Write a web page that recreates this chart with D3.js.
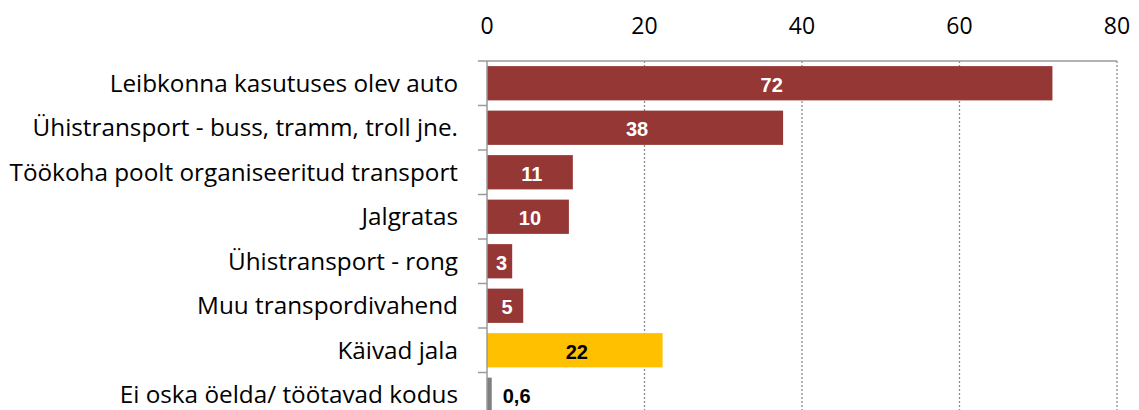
<html>
<head>
<script src="https://cdn.jsdelivr.net/npm/d3@7"></script>
<style>
  body { margin: 0; background: #fff; }
</style>
</head>
<body>
<div id="chartContainer"></div>
<script>
  // categories, top to bottom
  var categories = [
    "Leibkonna kasutuses olev auto",
    "Ühistransport - buss, tramm, troll jne.",
    "Töökoha poolt organiseeritud transport",
    "Jalgratas",
    "Ühistransport - rong",
    "Muu transpordivahend",
    "Käivad jala",
    "Ei oska öelda/ töötavad kodus"
  ];
  // shares in %
  var values = [71.8, 37.6, 10.9, 10.4, 3.2, 4.6, 22.3, 0.6];
  var barColors = ["#953735", "#953735", "#953735", "#953735", "#953735", "#953735", "#FFC000", "#7f7f7f"];
  var xTicks = [0, 20, 40, 60, 80];

  var W = 1139, H = 410;
  // note: "top" is reserved on window, so plotTop
  var plotLeft = 487, plotRight = 1117, plotTop = 61, band = 44.5;

  var svg = d3.select("#chartContainer").append("svg")
    .attr("width", W).attr("height", H);

  var x = d3.scaleLinear().domain([0, 80]).range([plotLeft, plotRight]);
  var y = d3.scaleBand().domain(categories)
    .range([plotTop, plotTop + band * categories.length])
    .paddingInner(0.23).paddingOuter(0.115);

  // dotted gridlines
  svg.selectAll("line.grid")
    .data(xTicks.slice(1))
    .enter().append("line")
      .attr("x1", function (d) { return x(d); })
      .attr("x2", function (d) { return x(d); })
      .attr("y1", plotTop).attr("y2", H)
      .style("stroke", "#8c8c8c")
      .style("stroke-width", 1.3)
      .style("stroke-dasharray", "2,2");

  // bars
  svg.selectAll("rect.bar")
    .data(values)
    .enter().append("rect")
      .attr("x", x(0))
      .attr("y", function (d, i) { return y(categories[i]); })
      .attr("width", function (d) { return x(d) - x(0); })
      .attr("height", y.bandwidth())
      .style("fill", function (d, i) { return barColors[i]; });

  // top axis line and left axis with category separators
  svg.append("line")
    .attr("x1", plotLeft - 9).attr("x2", plotRight)
    .attr("y1", plotTop).attr("y2", plotTop)
    .style("stroke", "#9a9a9a").style("stroke-width", 1.5);
  svg.append("line")
    .attr("x1", plotLeft).attr("x2", plotLeft)
    .attr("y1", plotTop).attr("y2", H)
    .style("stroke", "#9a9a9a").style("stroke-width", 1.5);
  svg.selectAll("line.sep")
    .data(d3.range(1, categories.length + 1))
    .enter().append("line")
      .attr("x1", plotLeft - 9).attr("x2", plotLeft)
      .attr("y1", function (d) { return plotTop + d * y.step(); })
      .attr("y2", function (d) { return plotTop + d * y.step(); })
      .style("stroke", "#9a9a9a").style("stroke-width", 1.5);

  // tick labels on top
  svg.selectAll("text.tick")
    .data(xTicks)
    .enter().append("text")
      .attr("x", function (d) { return x(d); })
      .attr("y", 34)
      .attr("text-anchor", "middle")
      .style("font-family", "'Open Sans', sans-serif")
      .style("font-size", "23px")
      .style("fill", "#000")
      .text(function (d) { return d; });

  // category labels
  svg.selectAll("text.cat")
    .data(categories)
    .enter().append("text")
      .attr("x", 458)
      .attr("y", function (d) { return y(d) + y.bandwidth() / 2; })
      .attr("dy", "0.36em")
      .attr("text-anchor", "end")
      .style("font-family", "'Open Sans', sans-serif")
      .style("font-size", "24.3px")
      .style("fill", "#000")
      .text(function (d) { return d; });

  // value labels
  svg.selectAll("text.val")
    .data(values)
    .enter().append("text")
      .attr("x", function (d) { return d < 2 ? x(d) + 11 : (x(0) + x(d)) / 2 + 2; })
      .attr("y", function (d, i) { return y(categories[i]) + y.bandwidth() / 2; })
      .attr("dy", "0.42em")
      .attr("text-anchor", function (d) { return d < 2 ? "start" : "middle"; })
      .style("font-family", "Arial, 'Liberation Sans', sans-serif")
      .style("font-weight", "bold")
      .style("font-size", "20px")
      .style("fill", function (d, i) { return i >= 6 ? "#000" : "#fff"; })
      .text(function (d) { return d < 1 ? String(d).replace(".", ",") : Math.round(d); });
</script>
</body>
</html>
